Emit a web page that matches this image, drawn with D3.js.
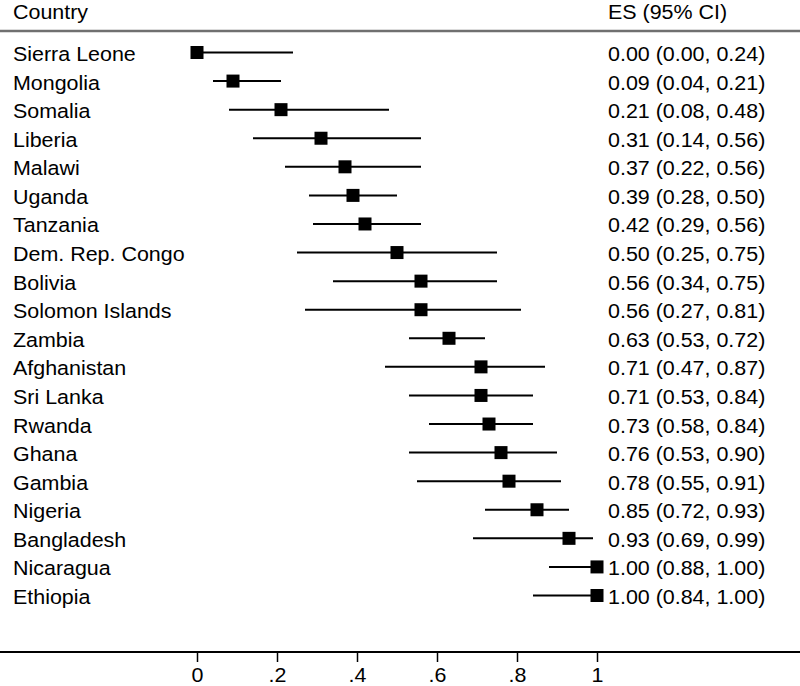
<!DOCTYPE html>
<html><head><meta charset="utf-8">
<script src="https://cdn.jsdelivr.net/npm/d3@7"></script>
<style>body{margin:0;background:#fff}svg{display:block}text{font-family:"Liberation Sans",Arial,Helvetica,sans-serif;fill:#000}</style>
</head><body>
<script>
const countries = ["Sierra Leone","Mongolia","Somalia","Liberia","Malawi","Uganda","Tanzania","Dem. Rep. Congo","Bolivia","Solomon Islands","Zambia","Afghanistan","Sri Lanka","Rwanda","Ghana","Gambia","Nigeria","Bangladesh","Nicaragua","Ethiopia"];
const es =   [0.00,0.09,0.21,0.31,0.37,0.39,0.42,0.50,0.56,0.56,0.63,0.71,0.71,0.73,0.76,0.78,0.85,0.93,1.00,1.00];
const lo =   [0.00,0.04,0.08,0.14,0.22,0.28,0.29,0.25,0.34,0.27,0.53,0.47,0.53,0.58,0.53,0.55,0.72,0.69,0.88,0.84];
const hi =   [0.24,0.21,0.48,0.56,0.56,0.50,0.56,0.75,0.75,0.81,0.72,0.87,0.84,0.84,0.90,0.91,0.93,0.99,1.00,1.00];
const tickValues = [0,0.2,0.4,0.6,0.8,1];
const tickLabels = ["0",".2",".4",".6",".8","1"];

const W=800,H=686;
const svg=d3.select("body").append("svg").attr("width",W).attr("height",H);
const x=d3.scaleLinear().domain([0,1]).range([197,597]);
const y=d3.scalePoint().domain(countries).range([52.5,595.5]);
const fs=19.5, sx=1.1;

function label(g,tx,ty,s,anchor){
  return g.append("text").attr("transform",`translate(${tx},${ty}) scale(${sx},1)`)
    .attr("font-size",fs).attr("text-anchor",anchor||"start").text(s);
}
label(svg,13,19,"Country");
label(svg,608,19,"ES (95% CI)");
svg.append("line").attr("x1",0).attr("x2",W).attr("y1",31).attr("y2",31).attr("stroke","#707070").attr("stroke-width",2.5);

const g=svg.append("g");
countries.forEach((c,i)=>{
  label(g,13,y(c)+8.5,c);
  label(g,608,y(c)+8.5,`${es[i].toFixed(2)} (${lo[i].toFixed(2)}, ${hi[i].toFixed(2)})`);
});
g.selectAll("line.ci").data(countries).join("line").attr("class","ci")
  .attr("x1",(d,i)=>x(lo[i])).attr("x2",(d,i)=>x(hi[i])).attr("y1",d=>y(d)).attr("y2",d=>y(d))
  .attr("stroke","#000").attr("stroke-width",2);
g.selectAll("rect").data(countries).join("rect")
  .attr("x",(d,i)=>x(es[i])-6.5).attr("y",d=>y(d)-6.5).attr("width",13).attr("height",13).attr("fill","#000");

const ax=svg.append("g").attr("transform","translate(0,652)")
  .call(d3.axisBottom(x).tickValues(tickValues).tickFormat((d,i)=>tickLabels[i]).tickSize(10).tickPadding(8));
ax.select(".domain").remove();
ax.selectAll(".tick line").attr("stroke","#000").attr("stroke-width",1.5);
ax.selectAll(".tick text").remove();
ax.selectAll(".tick").each(function(d,i){
  d3.select(this).append("text").attr("transform",`translate(0,30) scale(${sx},1)`)
    .attr("font-size",fs).attr("text-anchor","middle").text(tickLabels[i]);
});
svg.append("line").attr("x1",0).attr("x2",W).attr("y1",652).attr("y2",652).attr("stroke","#000").attr("stroke-width",2);
</script>
</body></html>
